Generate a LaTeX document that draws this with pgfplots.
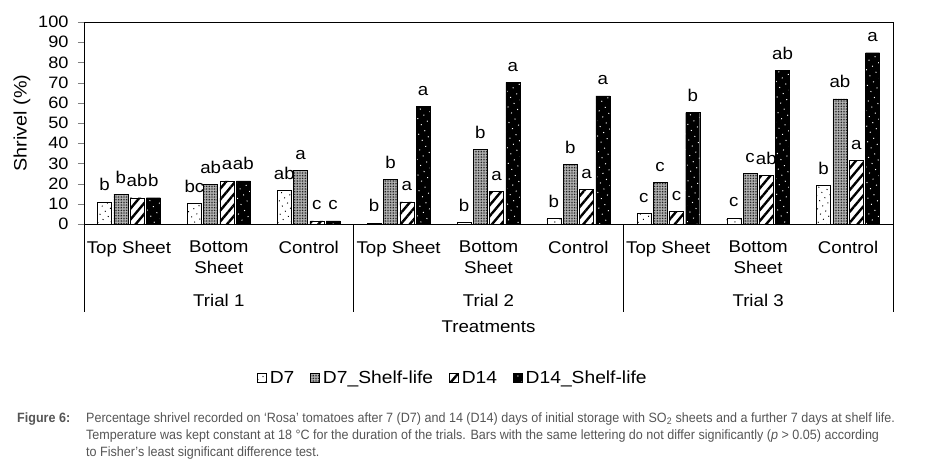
\documentclass[border=0pt]{standalone}
\usepackage{fontspec}
\setmainfont{Liberation Sans}[FakeStretch=1.1]
\newfontfamily\capfont[FakeStretch=0.93]{Liberation Sans}
\usepackage{pgfplots}
\pgfplotsset{compat=1.18}
\usetikzlibrary{patterns,patterns.meta}
\definecolor{capgray}{RGB}{85,85,85}

\pgfplotsset{
  d7/.style={draw=black, fill=white,
    postaction={pattern={Dots[distance=6pt,radius=0.7pt,angle=30]}, pattern color=black}},
  d7sl/.style={draw=black, fill=gray!50,
    postaction={pattern={Dots[distance=1.6pt,radius=0.5pt]}, pattern color=black}},
  d14/.style={draw=black, fill=white,
    postaction={pattern={Lines[angle=50,distance=7pt,line width=2.4pt]}, pattern color=black}},
  d14sl/.style={draw=black, fill=black,
    postaction={pattern={Dots[distance=7pt,radius=0.7pt,angle=30]}, pattern color=white}},
}

\begin{document}
\begin{tikzpicture}
\useasboundingbox (0,0) rectangle (938pt,-473pt);
\begin{axis}[
  at={(84pt,-224pt)}, anchor=south west,
  scale only axis, width=809pt, height=202pt,
  ybar=2.3pt, bar width=14pt,
  xmin=-0.5, xmax=8.5, ymin=0, ymax=100,
  ytick={0,10,...,100},
  xtick={0,...,8},
  xticklabels={Top Sheet,{Bottom\\Sheet},Control,Top Sheet,{Bottom\\Sheet},Control,Top Sheet,{Bottom\\Sheet},Control},
  xticklabel style={align=center, font=\fontsize{17}{21}\selectfont, anchor=north, inner sep=0pt, yshift=-11pt},
  yticklabel style={font=\fontsize{16.5}{18}\selectfont, xshift=-6pt},
  /pgf/number format/assume math mode=true,
  tick align=outside, major tick length=6pt,
  ytick pos=left, xtick style={draw=none},
  axis line style={line width=0.8pt},
  ylabel={Shrivel (\%)},
  ylabel style={at={(axis description cs:-0.0766,0.5)}, anchor=center, font=\fontsize{18}{20}\selectfont},
  clip=false,
  point meta=explicit symbolic,
  nodes near coords,
  nodes near coords style={font=\fontsize{17}{19}\selectfont, anchor=base, inner sep=0pt, yshift=11pt},
  legend columns=4,
  legend style={draw=none, fill=none, at={(0.456,-0.762)}, anchor=center,
    font=\fontsize{17.5}{20}\selectfont,
    /tikz/every even column/.append style={column sep=14pt},
    /tikz/every odd column/.append style={column sep=1pt}},
  legend image code/.code={\draw[#1, line width=0.6pt] (0pt,-4.5pt) rectangle (9pt,4.5pt);},
]
\addplot[d7] coordinates {
  (0,11.0) [b] (1,10.2) [bc] (2,16.8) [ab]
  (3,0.6) [b] (4,0.7) [b] (5,2.8) [b]
  (6,5.1) [c] (7,3.1) [c] (8,19.0) [b]
};
\addlegendentry{D7}
\addplot[d7sl] coordinates {
  (0,14.7) [b] (1,19.6) [ab] (2,26.6) [a]
  (3,22.1) [b] (4,36.8) [b] (5,29.5) [b]
  (6,20.5) [c] (7,25.2) [c] (8,62.0) [ab]
};
\addlegendentry{D7\_Shelf-life}
\addplot[d14] coordinates {
  (0,13.0) [ab] (1,21.3) [a] (2,1.6) [c]
  (3,11.0) [a] (4,16.0) [a] (5,17.2) [a]
  (6,6.1) [c] (7,24.1) [ab] (8,31.5) [a]
};
\addlegendentry{D14}
\addplot[d14sl] coordinates {
  (0,13.0) [b] (1,21.3) [ab] (2,1.6) [c]
  (3,58.3) [a] (4,70.1) [a] (5,63.4) [a]
  (6,55.1) [b] (7,75.9) [ab] (8,84.8) [a]
};
\addlegendentry{D14\_Shelf-life}

\draw[line width=0.8pt] (axis cs:-0.5,0) -- ++(0pt,-88pt);
\draw[line width=0.8pt] (axis cs:2.5,0) -- ++(0pt,-88pt);
\draw[line width=0.8pt] (axis cs:5.5,0) -- ++(0pt,-88pt);
\draw[line width=0.8pt] (axis cs:8.5,0) -- ++(0pt,-88pt);
\node[font=\fontsize{17}{19}\selectfont] at ([yshift=-76pt]axis cs:1,0) {Trial 1};
\node[font=\fontsize{17}{19}\selectfont] at ([yshift=-76pt]axis cs:4,0) {Trial 2};
\node[font=\fontsize{17}{19}\selectfont] at ([yshift=-76pt]axis cs:7,0) {Trial 3};
\node[font=\fontsize{17}{19}\selectfont] at ([yshift=-103pt]axis cs:4,0) {Treatments};
\end{axis}

\begin{scope}[every node/.style={anchor=base west, inner sep=0pt, text=capgray, font=\capfont\fontsize{13.5}{17}\selectfont}]
\node at (17pt,-422pt) {\bfseries Figure 6:};
\node at (86pt,-422pt) {Percentage shrivel recorded on ‘Rosa’ tomatoes after 7 (D7) and 14 (D14) days of initial storage with SO\textsubscript{2} sheets and a further 7 days at shelf life.};
\node at (86pt,-439pt) {Temperature was kept constant at 18 °C for the duration of the trials. Bars with the same lettering do not differ significantly (\textit{p} > 0.05) according};
\node at (86pt,-456pt) {to Fisher’s least significant difference test.};
\end{scope}
\end{tikzpicture}
\end{document}
